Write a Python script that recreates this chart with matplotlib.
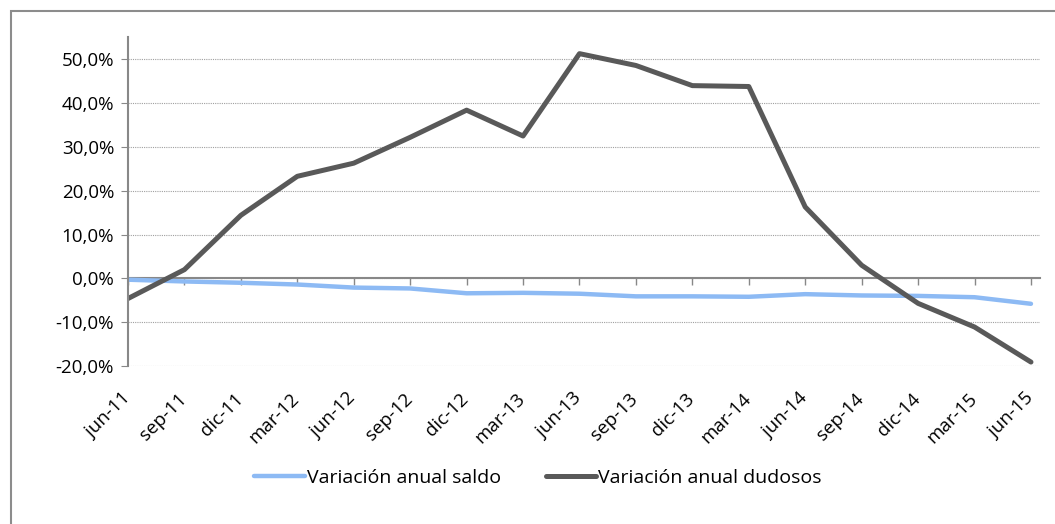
import matplotlib.pyplot as plt
from matplotlib.patches import Rectangle
from matplotlib.ticker import FuncFormatter
from matplotlib.transforms import ScaledTranslation

# quarterly dates and annual variation (%)
fechas = ['jun-11', 'sep-11', 'dic-11', 'mar-12', 'jun-12', 'sep-12', 'dic-12', 'mar-13',
          'jun-13', 'sep-13', 'dic-13', 'mar-14', 'jun-14', 'sep-14', 'dic-14', 'mar-15', 'jun-15']
saldo = [-0.3, -0.7, -1.0, -1.4, -2.1, -2.3, -3.4, -3.3, -3.5, -4.1, -4.1, -4.2, -3.6, -3.9, -4.0, -4.3, -5.8]
dudosos = [-4.6, 2.0, 14.4, 23.3, 26.3, 32.2, 38.4, 32.5, 51.3, 48.6, 44.0, 43.8, 16.3, 3.0, -5.7, -11.1, -19.1]

plt.rcParams['font.family'] = ['Open Sans', 'DejaVu Sans']

fig = plt.figure(figsize=(10.55, 5.24), dpi=100)
ax = fig.add_axes([128 / 1055, 1 - 366 / 524, (1040 - 128) / 1055, (366 - 37) / 524])

x = list(range(len(fechas)))
ax.plot(x, saldo, color='#8DBAF4', lw=3.2, label='Variación anual saldo', solid_capstyle='round')
ax.plot(x, dudosos, color='#595959', lw=3.6, label='Variación anual dudosos', solid_capstyle='round')

ymin, ymax = -20, 55.1
ax.set_ylim(ymin, ymax)
ax.set_xlim(0, len(fechas) - 1 + 0.16)

ax.set_yticks(range(-20, 51, 10))
ax.yaxis.set_major_formatter(FuncFormatter(lambda v, p: f'{v:.1f}%'.replace('.', ',')))
ax.tick_params(axis='y', direction='out', length=5, color='#888888', labelsize=13.5, pad=5)
ax.yaxis.grid(True, linestyle=(0, (1, 1)), color='#A0A0A0', lw=0.8)
ax.set_axisbelow(True)

for s in ['top', 'right', 'bottom']:
    ax.spines[s].set_visible(False)
ax.spines['left'].set_color('#888888')
ax.spines['left'].set_linewidth(1.5)

# category labels at the bottom, axis line with ticks at 0
ax.set_xticks(x)
ax.set_xticklabels(fechas, rotation=45, ha='right', va='top', rotation_mode='anchor', fontsize=13.5)
ax.tick_params(axis='x', length=0, pad=17)
shift = ScaledTranslation(-7 / 100, 0, fig.dpi_scale_trans)
for lab in ax.get_xticklabels():
    lab.set_transform(lab.get_transform() + shift)

zero = ax.secondary_xaxis((0 - ymin) / (ymax - ymin))
zero.set_xticks(x)
zero.set_xticklabels([])
zero.tick_params(direction='out', length=5, color='#888888', width=1)
zero.spines['bottom'].set_color('#888888')
zero.spines['bottom'].set_linewidth(1.5)
zero.set_zorder(1)

fig.legend(loc='center', bbox_to_anchor=(0.51, 1 - 478 / 524), ncol=2, frameon=False,
           fontsize=14, handlelength=2.6, handletextpad=0.1, columnspacing=2.3)

fig.patches.append(Rectangle((11 / 1055, -0.1), 1.2, 1 - 11 / 524 + 0.1, transform=fig.transFigure,
                             fill=False, ec='#8C8C8C', lw=1.5))

fig.savefig('out.png', dpi=100)
